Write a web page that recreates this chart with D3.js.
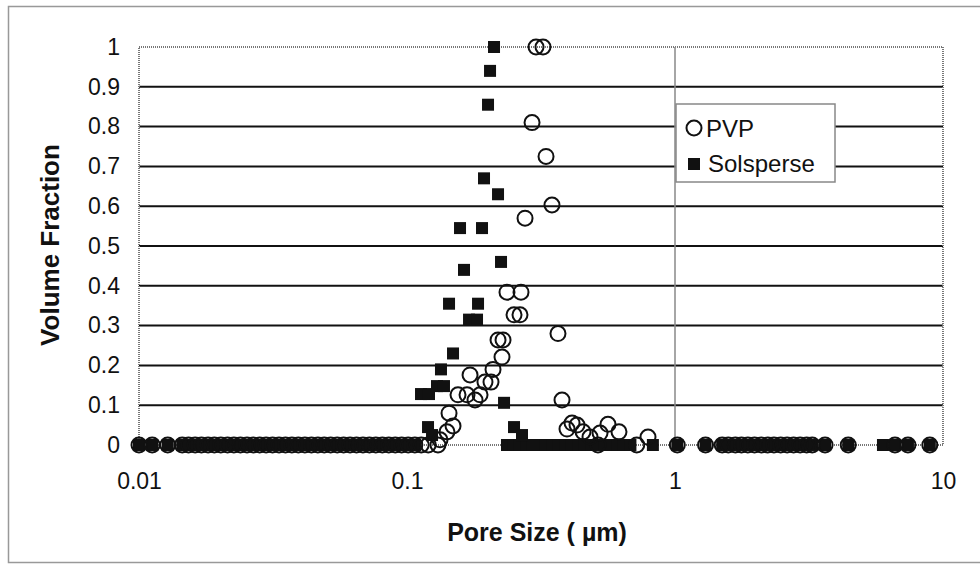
<!DOCTYPE html>
<html><head><meta charset="utf-8">
<script src="https://cdn.jsdelivr.net/npm/d3@7"></script>
<style>body{margin:0;background:#fff}svg{display:block}</style>
</head><body>
<svg id="c" width="980" height="577"></svg>
<script>
// ---- data ----
const xTicks = [0.01, 0.1, 1, 10];
const xTickLabels = ["0.01", "0.1", "1", "10"];
const yTicks = [0, 0.1, 0.2, 0.3, 0.4, 0.5, 0.6, 0.7, 0.8, 0.9, 1];
const yTickLabels = ["0", "0.1", "0.2", "0.3", "0.4", "0.5", "0.6", "0.7", "0.8", "0.9", "1"];

// bins with zero volume fraction shared by both samples (µm)
const zeroBinsLeft = [0.0100, 0.0112, 0.0128, 0.0145, 0.0153, 0.0162, 0.0171, 0.0181, 0.0191, 0.0202,
  0.0214, 0.0226, 0.0239, 0.0253, 0.0267, 0.0282, 0.0298, 0.0315, 0.0333, 0.0352, 0.0372,
  0.0393, 0.0416, 0.0440, 0.0465, 0.0491, 0.0519, 0.0549, 0.0580, 0.0613, 0.0648, 0.0685,
  0.0724, 0.0765, 0.0809, 0.0855, 0.0904, 0.0955, 0.101, 0.107];
const zeroBinsRight = [1.02, 1.30, 1.50, 1.58, 1.68, 1.77, 1.87, 1.98, 2.10, 2.22, 2.34, 2.48,
  2.62, 2.77, 2.93, 3.10, 3.25, 3.63, 4.43, 6.62, 7.40, 8.93];

// PVP (open circles)
const pvpSize = [0.113, 0.120, 0.1305, 0.516, 0.72,
  0.3030, 0.3217, 0.2928, 0.3302, 0.3475, 0.2757, 0.2361, 0.2663, 0.2508, 0.2640,
  0.3659, 0.2186, 0.2282, 0.2262, 0.2094, 0.1719, 0.1954, 0.2058, 0.1873, 0.1794,
  0.1550, 0.1675, 0.1435, 0.1485, 0.1410, 0.1328, 0.3788, 0.3954, 0.4128, 0.4309,
  0.4537, 0.4818, 0.5251, 0.5623, 0.6180, 0.7930];
const pvpFrac = [0, 0, 0, 0, 0,
  1.00, 1.00, 0.81, 0.725, 0.603, 0.57, 0.384, 0.384, 0.327, 0.327,
  0.28, 0.264, 0.264, 0.221, 0.19, 0.176, 0.158, 0.158, 0.126, 0.113,
  0.126, 0.126, 0.08, 0.048, 0.033, 0.013, 0.113, 0.04, 0.055, 0.05,
  0.033, 0.02, 0.03, 0.052, 0.033, 0.02];

// Solsperse (filled squares)
const solSize = [0.2361, 0.2497, 0.2640, 0.2792, 0.2952, 0.3121, 0.3300, 0.3490, 0.3690, 0.3902,
  0.4126, 0.4363, 0.4613, 0.4878, 0.5158, 0.5454, 0.5767, 0.6098, 0.6448, 0.6818, 0.827, 5.97,
  0.2112, 0.2041, 0.2006, 0.1938, 0.2186, 0.1577, 0.1905, 0.1632, 0.2243, 0.1435,
  0.1841, 0.1704, 0.1825, 0.1485, 0.1339, 0.1294, 0.1374, 0.1128, 0.1208, 0.1198,
  0.1240, 0.2302, 0.2508, 0.2686];
const solFrac = [0, 0, 0, 0, 0, 0, 0, 0, 0, 0,
  0, 0, 0, 0, 0, 0, 0, 0, 0, 0, 0, 0,
  1.00, 0.94, 0.855, 0.67, 0.63, 0.545, 0.545, 0.44, 0.46, 0.355,
  0.355, 0.315, 0.315, 0.23, 0.19, 0.148, 0.148, 0.128, 0.128, 0.045,
  0.025, 0.106, 0.045, 0.025];

// ---- build ----
const pvp = zeroBinsLeft.concat(zeroBinsRight).map(s => ({s, v: 0}))
  .concat(pvpSize.map((s, i) => ({s, v: pvpFrac[i]})));
const sol = zeroBinsLeft.concat(zeroBinsRight).map(s => ({s, v: 0}))
  .concat(solSize.map((s, i) => ({s, v: solFrac[i]})));

const svg = d3.select("#c");
const m = {l: 139, r: 943, t: 47, b: 445};
const x = d3.scaleLog().domain([0.01, 10]).range([m.l, m.r]);
const y = d3.scaleLinear().domain([0, 1]).range([m.b, m.t]);
const font = "'Liberation Sans', Arial, sans-serif";

// outer frame
svg.append("rect").attr("x", 8.5).attr("y", 6.5).attr("width", 980).attr("height", 556)
  .attr("fill", "#fff").attr("stroke", "#999").attr("stroke-width", 1.5);

// gridlines
svg.append("g").selectAll("line").data(yTicks.filter(t => t > 0 && t < 1)).join("line")
  .attr("x1", m.l).attr("x2", m.r).attr("y1", d => y(d)).attr("y2", d => y(d))
  .attr("stroke", "#111").attr("stroke-width", 2);

// plot border (dotted grey)
svg.append("rect").attr("x", m.l).attr("y", m.t).attr("width", m.r - m.l).attr("height", m.b - m.t)
  .attr("fill", "none").attr("stroke", "#777").attr("stroke-width", 2).attr("stroke-dasharray", "1,1");

// vertical axis line crossing at 1
svg.append("line").attr("x1", x(1)).attr("x2", x(1)).attr("y1", m.t).attr("y2", m.b)
  .attr("stroke", "#888").attr("stroke-width", 1.5);

// y axis labels
const yAxis = d3.axisLeft(y).tickValues(yTicks).tickFormat((d, i) => yTickLabels[i]).tickSize(0).tickPadding(19);
const yg = svg.append("g").attr("transform", `translate(${m.l},0)`).call(yAxis);
yg.select(".domain").remove();
yg.selectAll("text").attr("font-family", font).attr("font-size", 23).attr("fill", "#111");

// x axis labels
const xAxis = d3.axisBottom(x).tickValues(xTicks).tickFormat((d, i) => xTickLabels[i]).tickSize(0).tickPadding(28);
const xg = svg.append("g").attr("transform", `translate(0,${m.b})`).call(xAxis);
xg.select(".domain").remove();
xg.selectAll("text").attr("font-family", font).attr("font-size", 23).attr("fill", "#111");

// axis titles
svg.append("text").attr("x", 537).attr("y", 541).attr("text-anchor", "middle")
  .attr("font-family", font).attr("font-size", 25).attr("font-weight", "bold").attr("fill", "#111")
  .text("Pore Size ( µm)");
svg.append("text").attr("transform", "translate(59,245) rotate(-90)").attr("text-anchor", "middle")
  .attr("font-family", font).attr("font-size", 26).attr("font-weight", "bold").attr("fill", "#111")
  .text("Volume Fraction");

// markers
const sq = 12;
svg.append("g").selectAll("rect").data(sol).join("rect")
  .attr("x", d => x(d.s) - sq / 2).attr("y", d => y(d.v) - sq / 2)
  .attr("width", sq).attr("height", sq).attr("fill", "#111");
svg.append("g").selectAll("circle").data(pvp).join("circle")
  .attr("cx", d => x(d.s)).attr("cy", d => y(d.v)).attr("r", 7.5)
  .attr("fill", "none").attr("stroke", "#111").attr("stroke-width", 2);

// legend
const lg = svg.append("g");
lg.append("rect").attr("x", 676).attr("y", 104).attr("width", 159).attr("height", 78)
  .attr("fill", "#fff").attr("stroke", "#888").attr("stroke-width", 1.5);
lg.append("circle").attr("cx", 694).attr("cy", 128).attr("r", 7.5)
  .attr("fill", "none").attr("stroke", "#111").attr("stroke-width", 2);
lg.append("text").attr("x", 706).attr("y", 137).attr("font-family", font).attr("font-size", 24)
  .attr("fill", "#111").text("PVP");
lg.append("rect").attr("x", 688).attr("y", 158).attr("width", sq).attr("height", sq).attr("fill", "#111");
lg.append("text").attr("x", 708).attr("y", 172).attr("font-family", font).attr("font-size", 24)
  .attr("fill", "#111").text("Solsperse");
</script>
</body></html>
